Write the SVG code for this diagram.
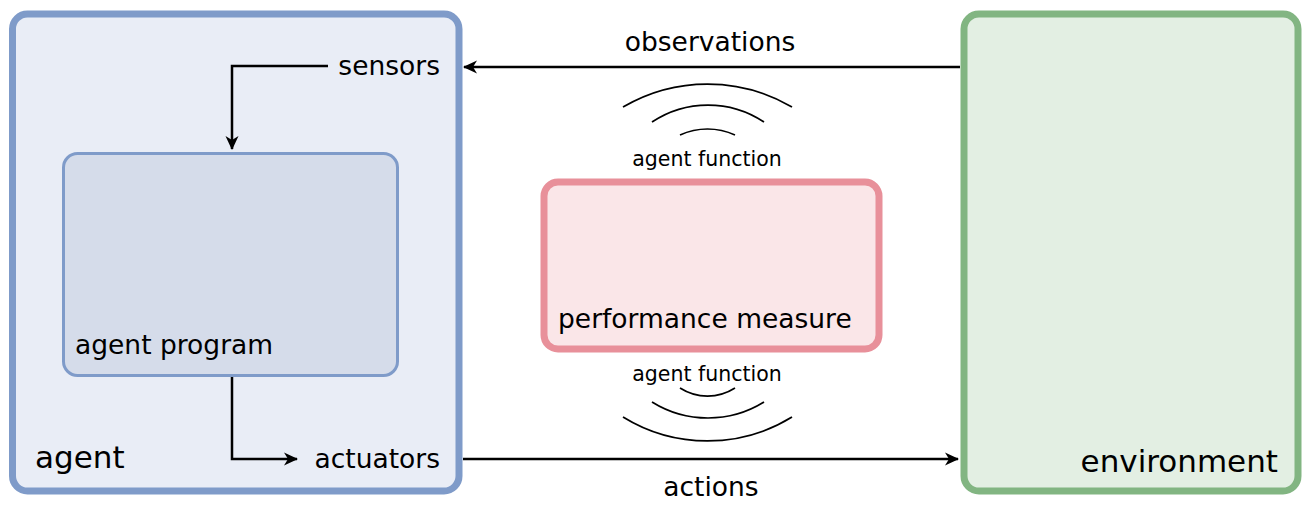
<svg xmlns="http://www.w3.org/2000/svg" width="1310" height="510" viewBox="0 0 1310 510">
<defs>
<marker id="ah" viewBox="0 0 14 14" refX="13" refY="7" markerWidth="14" markerHeight="14" markerUnits="userSpaceOnUse" orient="auto">
<path d="M0,0.5 L14,7 L0,13.5 L4,7 Z" fill="#000"/>
</marker>
<style>
text{font-family:"DejaVu Sans","Liberation Sans",sans-serif;fill:#000}
.lbl{font-size:26.5px}
.big{font-size:31px}
.sm{font-size:20.5px}
.conn{fill:none;stroke:#000;stroke-width:2.5}
.arc{fill:none;stroke:#000;stroke-width:1.7}
</style>
</defs>
<g id="agent">
<rect x="12.5" y="14" width="446.5" height="477" rx="15" fill="#e9edf6" stroke="#7f9bc9" stroke-width="7"/>
<text class="big" x="35" y="468">agent</text>
<text class="lbl" x="440" y="75" text-anchor="end">sensors</text>
<text class="lbl" x="440" y="468" text-anchor="end">actuators</text>
</g>
<g id="agent-program">
<rect x="63.5" y="153.5" width="334" height="222" rx="14" fill="#d5dcea" stroke="#7f9bc9" stroke-width="3"/>
<text class="lbl" x="75" y="354">agent program</text>
</g>
<g id="environment">
<rect x="964" y="14" width="334" height="477" rx="15" fill="#e3efe3" stroke="#82b582" stroke-width="7"/>
<text class="big" x="1278" y="472" text-anchor="end">environment</text>
</g>
<g id="performance-measure">
<rect x="544" y="182" width="335" height="167" rx="14" fill="#fae6e8" stroke="#e8909a" stroke-width="7"/>
<text class="lbl" x="558" y="328">performance measure</text>
</g>
<g id="agent-function-top">
<path class="arc" d="M623,107 A167,167 0 0 1 792,107"/>
<path class="arc" d="M652,122 A101,101 0 0 1 764,122"/>
<path class="arc" d="M680,135 A66,66 0 0 1 735,135"/>
<text class="sm" x="707" y="166" text-anchor="middle">agent function</text>
</g>
<g id="agent-function-bottom">
<text class="sm" x="707" y="381" text-anchor="middle">agent function</text>
<path class="arc" d="M680,388 A51,51 0 0 0 735,388"/>
<path class="arc" d="M652,402 A106,106 0 0 0 764,402"/>
<path class="arc" d="M623,417 A161,161 0 0 0 792,417"/>
</g>
<g id="connectors">
<path class="conn" d="M960,67 L464,67" marker-end="url(#ah)"/>
<text class="lbl" x="710" y="51" text-anchor="middle">observations</text>
<path class="conn" d="M463,459 L958,459" marker-end="url(#ah)"/>
<text class="lbl" x="711" y="496" text-anchor="middle">actions</text>
<path class="conn" d="M328,66 L232,66 L232,149" marker-end="url(#ah)"/>
<path class="conn" d="M232,377 L232,459 L297,459" marker-end="url(#ah)"/>
</g>
</svg>
